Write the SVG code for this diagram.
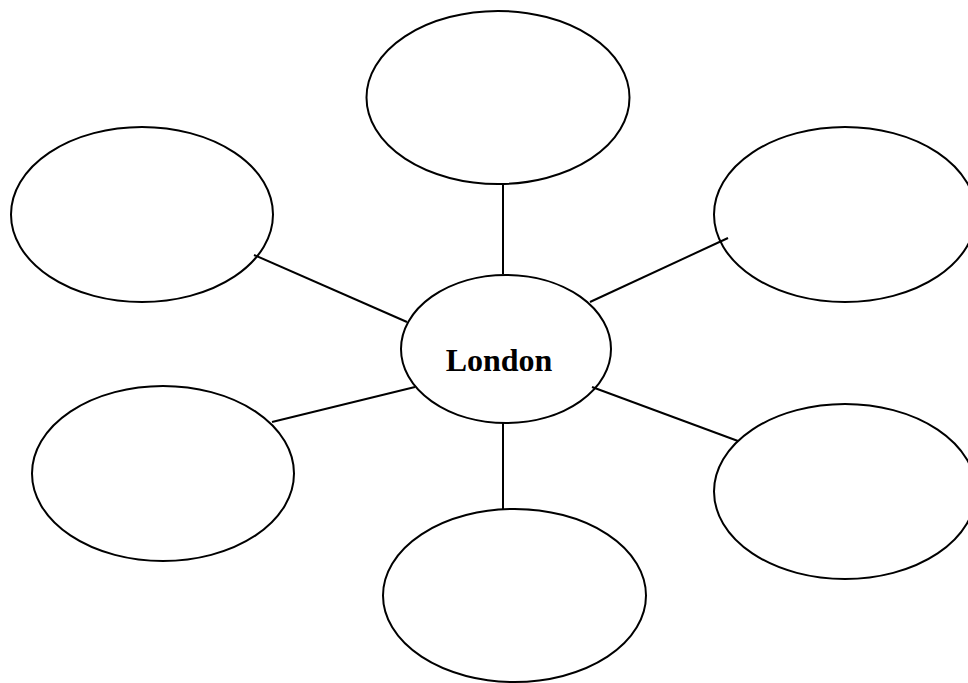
<svg xmlns="http://www.w3.org/2000/svg" width="968" height="683" viewBox="0 0 968 683">
  <style>
    .node { fill: none; stroke: #000; stroke-width: 2; }
    .link { stroke: #000; stroke-width: 2; }
    .label { font-family: "Liberation Serif", "Times New Roman", serif; font-weight: bold; font-size: 32px; fill: #000; }
  </style>
  <rect width="968" height="683" fill="#fff"/>
  <g id="connectors">
    <line class="link" x1="503" y1="184" x2="503" y2="274"/>
    <line class="link" x1="254" y1="255" x2="407" y2="322"/>
    <line class="link" x1="590" y1="302" x2="728" y2="238"/>
    <line class="link" x1="272" y1="422" x2="415" y2="387"/>
    <line class="link" x1="592" y1="387" x2="738" y2="441"/>
    <line class="link" x1="503" y1="423" x2="503" y2="509"/>
  </g>
  <g id="node-top"><ellipse class="node" cx="498" cy="97.5" rx="131.5" ry="86.5"/></g>
  <g id="node-top-left"><ellipse class="node" cx="142" cy="214.5" rx="131" ry="87.5"/></g>
  <g id="node-top-right"><ellipse class="node" cx="845" cy="214.5" rx="131" ry="87.5"/></g>
  <g id="node-center">
    <ellipse class="node" cx="506" cy="349" rx="105" ry="74"/>
    <text class="label" x="499" y="371" text-anchor="middle">London</text>
  </g>
  <g id="node-bottom-left"><ellipse class="node" cx="163" cy="473.5" rx="131" ry="87.5"/></g>
  <g id="node-bottom-right"><ellipse class="node" cx="845" cy="491.5" rx="131" ry="87.5"/></g>
  <g id="node-bottom"><ellipse class="node" cx="514.5" cy="595.5" rx="131.5" ry="86.5"/></g>
</svg>
